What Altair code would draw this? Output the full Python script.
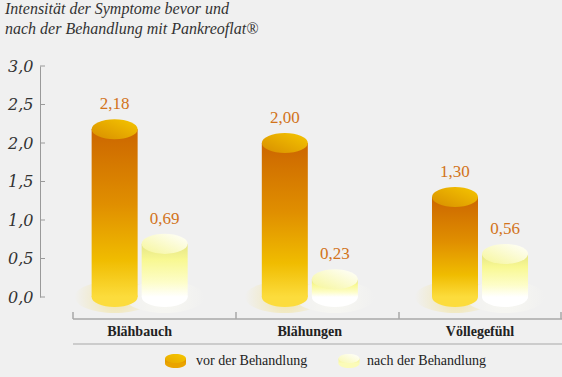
import altair as alt
import pandas as pd

# ---------------- data ----------------
categories = ["Blähbauch", "Blähungen", "Völlegefühl"]
series = ["vor der Behandlung", "nach der Behandlung"]
vor_values = [2.18, 2.00, 1.30]
nach_values = [0.69, 0.23, 0.56]
y_ticks = [0.0, 0.5, 1.0, 1.5, 2.0, 2.5, 3.0]
title_lines = ["Intensität der Symptome bevor und",
               "nach der Behandlung mit Pankreoflat®"]


def fmt(v):
    return f"{v:.2f}".replace(".", ",")


HALF = 0.147  # half distance between the two bars of a group (group units)
rows = []
for i, c in enumerate(categories):
    rows.append(dict(cat=c, serie=series[0], idx=i, x=i - HALF,
                     value=vor_values[i], base=0.0, label=fmt(vor_values[i])))
    rows.append(dict(cat=c, serie=series[1], idx=i, x=i + HALF,
                     value=nach_values[i], base=0.0, label=fmt(nach_values[i])))
df = pd.DataFrame(rows)
df_cat = pd.DataFrame({"cat": categories, "idx": list(range(len(categories)))})
df_ticks = pd.DataFrame({"tick": y_ticks})
one = pd.DataFrame({"a": [0]})

# ---------------- style ----------------
SERIF = "'Liberation Serif', 'Times New Roman', serif"
SERIF2 = "'DejaVu Serif', serif"
BG = "#f0f0f0"
ELL = "M-1,0A1,0.435,0,1,1,1,0A1,0.435,0,1,1,-1,0Z"
GLOW = "M-1,0A1,0.4,0,1,1,1,0A1,0.4,0,1,1,-1,0Z"
BW = 46


def lin(stops, x1=0, y1=0, x2=0, y2=1):
    return alt.LinearGradient(gradient="linear",
                              stops=[alt.GradientStop(color=c, offset=o) for o, c in stops],
                              x1=x1, y1=y1, x2=x2, y2=y2)


def rad(stops):
    return alt.RadialGradient(gradient="radial",
                              stops=[alt.GradientStop(color=c, offset=o) for o, c in stops],
                              x1=0.5, y1=0.5, x2=0.5, y2=0.5, r1=0, r2=0.5)


vor_body = lin([(0, "#cc6600"), (0.45, "#e08f00"), (0.78, "#f0bc00"), (1, "#fcdc3c")])
vor_top = lin([(0, "#d88e00"), (1, "#f5c600")], x1=0, y1=1, x2=1, y2=0)
vor_bot = "#fcdc3c"
nach_body = lin([(0, "#e4e486"), (0.3, "#f8f892"), (0.72, "#fdfdc8"), (1, "#ffffff")])
nach_top = lin([(0, "#f6f69a"), (1, "#ffffff")], x1=0, y1=1, x2=1, y2=0)
nach_bot = "#ffffff"
vor_glow = rad([(0, "#f2e4a0"), (0.5, "#f1ebcf"), (1, BG)])
nach_glow = rad([(0, "#f8f8f2"), (1, BG)])

xscale = alt.Scale(domain=[-0.5562, 2.4524], nice=False, zero=False)
yscale = alt.Scale(domain=[0, 3], nice=False)
yaxis = alt.Axis(values=y_ticks, title=None, grid=False, ticks=False, tickSize=0,
                 labelExpr="replace(format(datum.value, '.1f'), '.', ',')",
                 labelFont=SERIF2, labelFontStyle="italic", labelFontSize=16,
                 labelColor="#333333", labelPadding=7, domainColor="#9a9a9a",
                 domainWidth=1)

X = alt.X("x:Q", scale=xscale, axis=None)


def Yf(field):
    return alt.Y(field, scale=yscale, axis=yaxis)


layers = []
base = alt.Chart(df)
for s, glow in [(series[0], vor_glow), (series[1], nach_glow)]:
    d = base.transform_filter(alt.datum.serie == s)
    layers.append(d.mark_point(shape=GLOW, size=80 * 80, filled=True, fill=glow,
                               strokeWidth=0, opacity=1).encode(x=X, y=Yf("base:Q")))
for s, bot, body, top in [(series[0], vor_bot, vor_body, vor_top),
                          (series[1], nach_bot, nach_body, nach_top)]:
    d = base.transform_filter(alt.datum.serie == s)
    layers.append(d.mark_point(shape=ELL, size=BW * BW, filled=True, fill=bot,
                               strokeWidth=0, opacity=1).encode(x=X, y=Yf("base:Q")))
    layers.append(d.mark_bar(size=BW, fill=body, strokeWidth=0).encode(
        x=X, y=Yf("value:Q"), y2="base:Q"))
    layers.append(d.mark_point(shape=ELL, size=BW * BW, filled=True, fill=top,
                               strokeWidth=0, opacity=1).encode(x=X, y=Yf("value:Q")))

# value labels
layers.append(base.mark_text(font=SERIF, fontSize=17, color="#d2731a", dy=-20,
                             baseline="alphabetic", align="center").encode(
    x=X, y=Yf("value:Q"), text="label:N"))

# inward y ticks
layers.append(alt.Chart(df_ticks).mark_rule(color="#9a9a9a", strokeWidth=1).encode(
    y=Yf("tick:Q"), x=alt.value(0), x2=alt.value(5)))

# x axis line + ticks
layers.append(alt.Chart(one).mark_rule(color="#a8a8a8", strokeWidth=1.5).encode(
    x=alt.value(33), x2=alt.value(522), y=alt.value(253)))
for px in [33, 196, 359, 521]:
    layers.append(alt.Chart(one).mark_rule(color="#a8a8a8", strokeWidth=1.5).encode(
        x=alt.value(px), y=alt.value(246), y2=alt.value(253)))

# category labels
layers.append(alt.Chart(df_cat).mark_text(font=SERIF, fontSize=14, fontWeight="bold",
                                          color="#222222", baseline="middle").encode(
    x=alt.X("idx:Q", scale=xscale, axis=None), y=alt.value(266), text="cat:N"))

# separator line
layers.append(alt.Chart(one).mark_rule(color="#cccccc", strokeWidth=2).encode(
    x=alt.value(33), x2=alt.value(522), y=alt.value(278)))

# legend
for cx, tx, lbl, body, top, bot in [(135.5, 156, series[0],
                                     lin([(0, "#d88a00"), (1, "#eaa400")]),
                                     lin([(0, "#e8a800"), (1, "#f6c800")], x1=0, y1=1, x2=1, y2=0),
                                     "#eaa400"),
                                    (309, 327, series[1],
                                     lin([(0, "#f2f290"), (1, "#fbfbb8")]),
                                     lin([(0, "#f8f8b0"), (1, "#ffffff")], x1=0, y1=1, x2=1, y2=0),
                                     "#fbfbb8")]:
    layers.append(alt.Chart(one).mark_point(shape=ELL, size=21 * 21, filled=True, fill=bot,
                                            strokeWidth=0, opacity=1).encode(
        x=alt.value(cx), y=alt.value(297.5)))
    layers.append(alt.Chart(one).mark_rect(fill=body, strokeWidth=0).encode(
        x=alt.value(cx - 10.5), x2=alt.value(cx + 10.5), y=alt.value(292.5), y2=alt.value(297.5)))
    layers.append(alt.Chart(one).mark_point(shape=ELL, size=21 * 21, filled=True, fill=top,
                                            strokeWidth=0, opacity=1).encode(
        x=alt.value(cx), y=alt.value(292.5)))
    layers.append(alt.Chart(one).mark_text(font=SERIF, fontSize=14, color="#222222",
                                           align="left", baseline="middle").encode(
        x=alt.value(tx), y=alt.value(295), text=alt.value(lbl)))

# title
layers.append(alt.Chart(one).mark_text(font=SERIF, fontSize=16, fontStyle="italic",
                                       color="#333333", align="left", baseline="alphabetic",
                                       lineHeight=20).encode(
    x=alt.value(-35), y=alt.value(-52), text=alt.value(title_lines)))

chart = alt.layer(*layers).properties(
    width=522, height=231,
    autosize=alt.AutoSizeParams(type="none"),
    padding={"left": 40, "top": 66, "right": 0, "bottom": 80},
    background=BG,
).configure_view(stroke=None)

chart.save("out.html", embed_options={"renderer": "svg", "actions": False})
